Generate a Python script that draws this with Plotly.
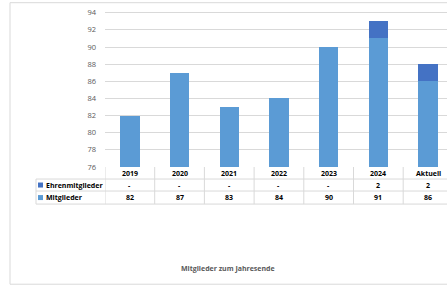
import plotly.graph_objects as go

categories = ["2019", "2020", "2021", "2022", "2023", "2024", "Aktuell"]
mitglieder = [82, 87, 83, 84, 90, 91, 86]
ehrenmitglieder = [None, None, None, None, None, 2, 2]
y_ticks = [76, 78, 80, 82, 84, 86, 88, 90, 92, 94]
title_text = "Mitglieder zum Jahresende"

C_MIT = "#5B9BD5"
C_EHR = "#4472C4"
GRID = "#d9d9d9"
TXT = "#595959"
FONT = "Open Sans"

W, H = 447, 286
Y0, Y1 = 76, 94.2
PLOT_L, PLOT_B = 105, 167
UNIT = (167 - 13) / 18.0
PLOT_T = 13 - (Y1 - 94) * UNIT
ML, MR, MT = PLOT_L, 0, PLOT_T
MB = H - PLOT_B
PW, PH = W - ML - MR, H - MT - MB
colw = 49.7
xmax = -0.5 + PW / colw


def px2x(px):
    return (px - ML) / PW


def py2y(py):
    return (PLOT_B - py) / PH


fig = go.Figure()
fig.add_trace(go.Bar(x=categories, y=mitglieder, name="Mitglieder", marker_color=C_MIT,
                     marker_line_width=0, hoverinfo="skip"))
fig.add_trace(go.Bar(x=categories, y=ehrenmitglieder, name="Ehrenmitglieder", marker_color=C_EHR,
                     marker_line_width=0, hoverinfo="skip"))

shapes = []
annotations = []

row_lines = [179, 191, 204]
n = len(categories)
for py in row_lines:
    shapes.append(dict(type="line", xref="paper", yref="paper", x0=px2x(36), x1=1.02,
                       y0=py2y(py), y1=py2y(py), line=dict(color=GRID, width=1), layer="above"))
for i in range(n):
    xb = i - 0.5
    shapes.append(dict(type="line", xref="x", yref="paper", x0=xb, x1=xb,
                       y0=0, y1=py2y(204), line=dict(color=GRID, width=1), layer="above"))
shapes.append(dict(type="line", xref="paper", yref="paper", x0=px2x(36), x1=px2x(36),
                   y0=py2y(179), y1=py2y(204), line=dict(color=GRID, width=1)))
shapes.append(dict(type="rect", xref="paper", yref="paper", x0=px2x(10), x1=1.05,
                   y0=py2y(284), y1=py2y(3), line=dict(color=GRID, width=1), layer="below"))

for color, py in [(C_EHR, 185), (C_MIT, 197.5)]:
    shapes.append(dict(type="rect", xref="paper", yref="paper", x0=px2x(38), x1=px2x(43),
                       y0=py2y(py + 2.5), y1=py2y(py - 2.5), fillcolor=color, line=dict(width=0)))

tf = dict(family=FONT, size=7, color="#000000", weight="bold")
for i, c in enumerate(categories):
    annotations.append(dict(x=i, y=py2y(173), xref="x", yref="paper", text=c, showarrow=False,
                            font=tf, xanchor="center", yanchor="middle"))
    e = ehrenmitglieder[i]
    annotations.append(dict(x=i, y=py2y(185), xref="x", yref="paper",
                            text=str(e) if e else "-", showarrow=False,
                            font=tf, xanchor="center", yanchor="middle"))
    annotations.append(dict(x=i, y=py2y(197.5), xref="x", yref="paper", text=str(mitglieder[i]),
                            showarrow=False, font=tf, xanchor="center", yanchor="middle"))

annotations.append(dict(x=px2x(43.5), y=py2y(185), xref="paper", yref="paper", text="Ehrenmitglieder",
                        showarrow=False, font=tf, xanchor="left", yanchor="middle"))
annotations.append(dict(x=px2x(43.5), y=py2y(197.5), xref="paper", yref="paper", text="Mitglieder",
                        showarrow=False, font=tf, xanchor="left", yanchor="middle"))
annotations.append(dict(x=px2x(228), y=py2y(268), xref="paper", yref="paper", text=title_text,
                        showarrow=False, font=dict(family=FONT, size=7, color=TXT, weight="bold"),
                        xanchor="center", yanchor="middle"))

fig.update_layout(
    width=W, height=H,
    margin=dict(l=ML, r=MR, t=MT, b=MB, pad=0),
    barmode="stack",
    bargap=0.61,
    showlegend=False,
    hovermode=False,
    plot_bgcolor="white",
    paper_bgcolor="white",
    shapes=shapes,
    annotations=annotations,
    xaxis=dict(type="category", categoryorder="array", categoryarray=categories,
               range=[-0.5, xmax], showticklabels=False, showgrid=False, zeroline=False,
               showline=False, ticks=""),
    yaxis=dict(range=[Y0, Y1], tickvals=y_ticks, showgrid=True, gridcolor=GRID, gridwidth=1,
               zeroline=False, showline=False, ticks="", ticklabelstandoff=8,
               tickfont=dict(family=FONT, size=7.5, color=TXT)),
)

fig.write_html("out.html", config={"displayModeBar": False, "staticPlot": True},
               post_script="document.body.style.margin='0';document.body.style.overflow='hidden';")
